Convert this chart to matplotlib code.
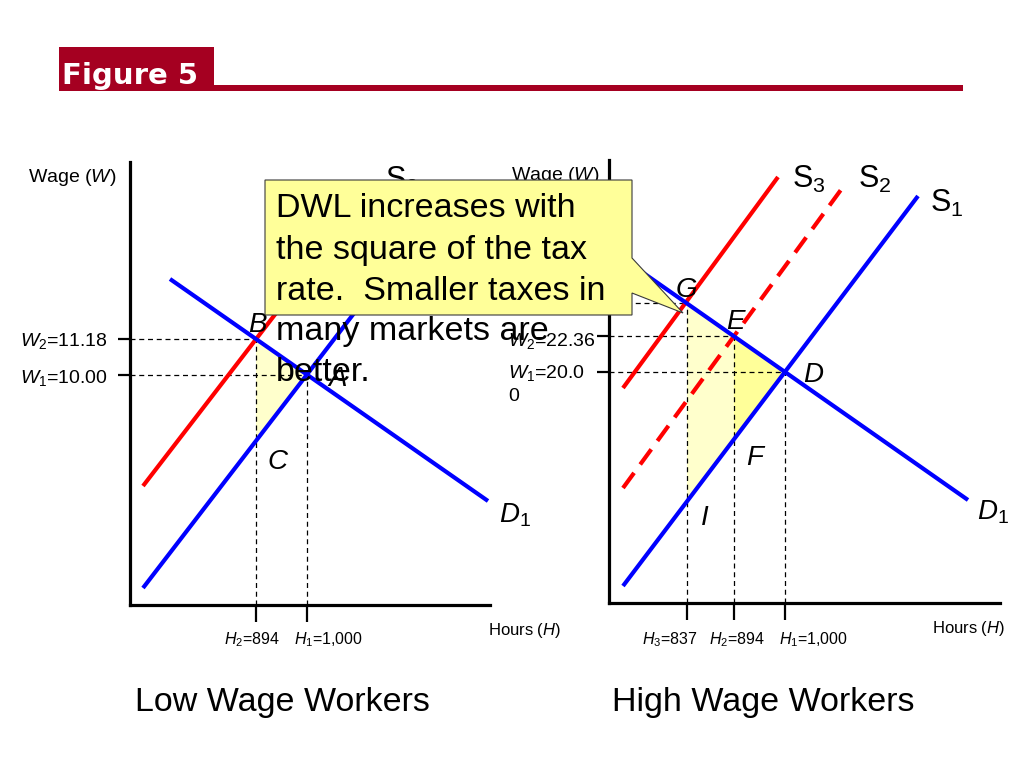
import matplotlib
matplotlib.use("Agg")
import matplotlib.pyplot as plt
from matplotlib.patches import Polygon, Rectangle
import numpy as np

plt.rcParams['font.family'] = ['Liberation Sans', 'DejaVu Sans']
plt.rcParams['mathtext.fontset'] = 'custom'
plt.rcParams['mathtext.rm'] = 'Liberation Sans'
plt.rcParams['mathtext.it'] = 'Liberation Sans:italic'
plt.rcParams['mathtext.bf'] = 'Liberation Sans:bold'

# ---------------- data (schematic diagram units) ----------------
title = "Figure 5"
panel_titles = ["Low Wage Workers", "High Wage Workers"]
callout_lines = ["DWL increases with", "the square of the tax",
                 "rate.  Smaller taxes in", "many markets are", "better."]

# Low wage panel
low_H = [126, 177]                      # H2, H1 positions
low_H_labels = [r"$\mathit{H}_2$=894", r"$\mathit{H}_1$=1,000"]
low_W_labels = [r"$\mathit{W}_2$=11.18", r"$\mathit{W}_1$=10.00"]
low_S1 = [(13, 17), (311, 405)]
low_S2 = [(13, 119), (237, 410)]
low_D1 = [(40, 326), (358, 104)]

# High wage panel
high_H = [78, 125, 176]                 # H3, H2, H1 positions
high_H_labels = [r"$\mathit{H}_3$=837", r"$\mathit{H}_2$=894", r"$\mathit{H}_1$=1,000"]
high_W_labels = [r"$\mathit{W}_2$=22.36", r"$\mathit{W}_1$=20.0", "0"]
high_S1 = [(14, 17), (309, 407)]
high_S2 = [(14, 115), (234, 416)]
high_S3 = [(14, 215), (169, 426)]
high_D1 = [(23, 338), (359, 103)]

BLUE = '#0000FF'
RED = '#FF0000'
LIGHT = '#FFFFCC'
YEL = '#FFFF99'
DARKRED = '#A50021'


def at(line, x):
    (x0, y0), (x1, y1) = line
    return y0 + (y1 - y0) * (x - x0) / (x1 - x0)


def cross(l1, l2):
    (a0, b0), (a1, b1) = l1
    (c0, d0), (c1, d1) = l2
    m1 = (b1 - b0) / (a1 - a0)
    m2 = (d1 - d0) / (c1 - c0)
    x = (d0 - b0 + m1 * a0 - m2 * c0) / (m1 - m2)
    return x, b0 + m1 * (x - a0)


fig = plt.figure(figsize=(10.24, 7.68), dpi=100)
W, Hf = 1024, 768


def make_ax(x0, y_top, x1, y_bot):
    ax = fig.add_axes([x0 / W, (Hf - y_bot) / Hf, (x1 - x0) / W, (y_bot - y_top) / Hf])
    ax.set_xlim(0, x1 - x0)
    ax.set_ylim(0, y_bot - y_top)
    for s in ['top', 'right']:
        ax.spines[s].set_visible(False)
    for s in ['left', 'bottom']:
        ax.spines[s].set_linewidth(2.3)
    ax.patch.set_alpha(0)
    ax.tick_params(axis='x', direction='out', length=12, width=1.6, labelbottom=False)
    ax.tick_params(axis='y', direction='out', length=9, width=1.6, labelleft=False)
    return ax


def seg(ax, line, **kw):
    xs = [p[0] for p in line]
    ys = [p[1] for p in line]
    ax.plot(xs, ys, clip_on=False, solid_capstyle='butt', **kw)


def guides(ax, pts):
    for x, y in pts:
        ax.plot([0, x], [y, y], color='black', lw=0.9, ls=(0, (4, 3)), clip_on=False, zorder=1)
        ax.plot([x, x], [0, y], color='black', lw=0.9, ls=(0, (4, 3)), clip_on=False, zorder=1)


def big(ax, x, y, s, **kw):
    ax.text(x, y, s, fontsize=20, style='italic', ha='center', va='center', clip_on=False, **kw)


# ---------------- low wage panel ----------------
axL = make_ax(130, 162, 490, 605)
B = (low_H[0], at(low_D1, low_H[0]))
A = (low_H[1], at(low_D1, low_H[1]))
C = (low_H[0], at(low_S1, low_H[0]))
axL.add_patch(Polygon([B, A, C], closed=True, facecolor=LIGHT, edgecolor='none', zorder=0.5))
guides(axL, [B, A])
seg(axL, low_S2, color=RED, lw=3, zorder=3)
seg(axL, low_S1, color=BLUE, lw=3, zorder=3)
seg(axL, low_D1, color=BLUE, lw=3, zorder=3)
axL.set_xticks(low_H)
axL.set_yticks([B[1], A[1]])
big(axL, B[0] + 1, B[1] + 14, "B")
big(axL, A[0] + 31, A[1] - 4, "A")
big(axL, C[0] + 21, C[1] - 21, "C")
axL.text(369, 90, r"$\mathit{D}_1$", fontsize=20, va='center', ha='left', clip_on=False)
axL.text(255, 416, r"$\mathrm{S}_2$", fontsize=22, va='baseline', ha='left', clip_on=False)
axL.text(-22, B[1] - 2, low_W_labels[0], fontsize=14, ha='right', va='center', clip_on=False)
axL.text(-22, A[1] - 3, low_W_labels[1], fontsize=14, ha='right', va='center', clip_on=False)
axL.text(122, -35, low_H_labels[0], fontsize=11.5, ha='center', va='center', clip_on=False)
axL.text(198, -35, low_H_labels[1], fontsize=11.5, ha='center', va='center', clip_on=False)
axL.text(358, -26, r"Hours ($\mathit{H}$)", fontsize=12, ha='left', va='center', clip_on=False)
axL.text(-13, 428, r"Wage ($\mathit{W}$)", fontsize=14, ha='right', va='center', clip_on=False)

# ---------------- high wage panel ----------------
axR = make_ax(609, 160, 1000, 603)
G = (high_H[0], at(high_D1, high_H[0]))
E = (high_H[1], at(high_D1, high_H[1]))
F = (high_H[1], at(high_S1, high_H[1]))
I = (high_H[0], at(high_S1, high_H[0]))
D = cross(high_S1, high_D1)
axR.add_patch(Polygon([G, E, F, I], closed=True, facecolor=LIGHT, edgecolor='none', zorder=0.5))
axR.add_patch(Polygon([E, D, F], closed=True, facecolor=YEL, edgecolor='none', zorder=0.5))
guides(axR, [G, E, D])
seg(axR, high_S3, color=RED, lw=3, zorder=3)
axR.plot([p[0] for p in high_S2], [p[1] for p in high_S2], color=RED, lw=3,
         ls=(0, (4.5, 2.5)), clip_on=False, zorder=3)
seg(axR, high_S1, color=BLUE, lw=3, zorder=3)
seg(axR, high_D1, color=BLUE, lw=3, zorder=3)
axR.set_xticks(high_H)
axR.set_yticks([G[1], E[1], D[1]])
big(axR, G[0] - 1, G[1] + 13, "G")
big(axR, E[0] + 1, E[1] + 14, "E")
big(axR, D[0] + 28, D[1] - 3, "D")
big(axR, F[0] + 21, F[1] - 19, "F")
big(axR, I[0] + 18, I[1] - 17, "I")
axR.text(368, 91, r"$\mathit{D}_1$", fontsize=20, va='center', ha='left', clip_on=False)
axR.text(183, 415, r"$\mathrm{S}_3$", fontsize=22, va='baseline', ha='left', clip_on=False)
axR.text(249, 415, r"$\mathrm{S}_2$", fontsize=22, va='baseline', ha='left', clip_on=False)
axR.text(321, 391, r"$\mathrm{S}_1$", fontsize=22, va='baseline', ha='left', clip_on=False)
axR.text(-101, E[1] - 5, high_W_labels[0], fontsize=14, ha='left', va='center', clip_on=False)
axR.text(-101, D[1] - 1, high_W_labels[1], fontsize=14, ha='left', va='center', clip_on=False)
axR.text(-101, D[1] - 25, high_W_labels[2], fontsize=14, ha='left', va='center', clip_on=False)
for x, lab in zip([61, 128, 204], high_H_labels):
    axR.text(x, -37, lab, fontsize=11.5, ha='center', va='center', clip_on=False)
axR.text(323, -26, r"Hours ($\mathit{H}$)", fontsize=12, ha='left', va='center', clip_on=False)
axR.text(-9, 428, r"Wage ($\mathit{W}$)", fontsize=14, ha='right', va='center', clip_on=False)

# ---------------- slide decorations (overlay) ----------------
ov = fig.add_axes([0, 0, 1, 1], zorder=10)
ov.set_xlim(0, W)
ov.set_ylim(Hf, 0)
ov.axis('off')
ov.patch.set_alpha(0)

hdr = Rectangle((59, 47), 155, 44, facecolor=DARKRED, edgecolor='none')
ov.add_patch(hdr)
ov.add_patch(Rectangle((214, 85), 749, 6, facecolor=DARKRED, edgecolor='none'))
t = ov.text(62, 84, title, fontsize=21, fontweight='bold', color='white',
            family='DejaVu Sans', ha='left', va='baseline')
t.set_clip_path(hdr)

callout = Polygon([(265, 180), (632, 180), (632, 258), (683, 313), (632, 293),
                   (632, 315), (265, 315)], closed=True, facecolor=YEL,
                  edgecolor='#3a3a3a', lw=0.8)
ov.add_patch(callout)
for yb, line in zip([217, 259, 300, 340, 381], callout_lines):
    ov.text(276, yb, line, fontsize=24.5, ha='left', va='baseline', color='black')

ov.text(282, 702, panel_titles[0], fontsize=24.5, ha='center', va='center')
ov.text(763, 702, panel_titles[1], fontsize=24.5, ha='center', va='center')

fig.savefig("out.png", dpi=100)
